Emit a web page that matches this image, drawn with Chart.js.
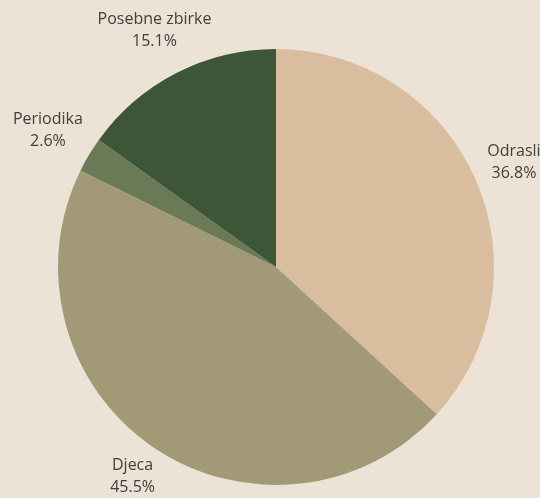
<!DOCTYPE html>
<html><head><meta charset="utf-8">
<script src="https://cdn.jsdelivr.net/npm/chart.js@4"></script>
<style>html,body{margin:0;padding:0;background:#ece2d5;}#wrap{width:540px;height:498px;}</style>
</head><body><div id="wrap"><canvas id="c" width="540" height="498"></canvas></div>
<script>
const categories = ["Odrasli", "Djeca", "Periodika", "Posebne zbirke"];
const values = [36.8, 45.5, 2.6, 15.1];
const colors = ["#d9bd9f", "#a29a77", "#6b7a56", "#3d5638"];
const labelOffsets = [42, 36, 48, 48];

const outsideLabels = {
  id: 'outsideLabels',
  afterDatasetsDraw(chart) {
    const ctx = chart.ctx;
    const meta = chart.getDatasetMeta(0);
    ctx.save();
    ctx.font = '16px "Open Sans"';
    ctx.fillStyle = '#404040';
    ctx.textAlign = 'center';
    ctx.textBaseline = 'middle';
    meta.data.forEach((arc, i) => {
      const mid = (arc.startAngle + arc.endAngle) / 2;
      const r = arc.outerRadius + labelOffsets[i];
      const x = arc.x + Math.cos(mid) * r;
      const y = arc.y + Math.sin(mid) * r;
      ctx.fillText(categories[i], x, y - 11);
      ctx.fillText(values[i].toFixed(1) + '%', x, y + 11);
    });
    ctx.restore();
  }
};

new Chart(document.getElementById('c'), {
  type: 'pie',
  data: { labels: categories, datasets: [{ data: values, backgroundColor: colors, borderWidth: 0 }] },
  options: {
    responsive: false, animation: false,
    layout: { padding: { left: 58, right: 46, top: 49, bottom: 13 } },
    plugins: { legend: { display: false }, tooltip: { enabled: false } }
  },
  plugins: [outsideLabels]
});
</script></body></html>
